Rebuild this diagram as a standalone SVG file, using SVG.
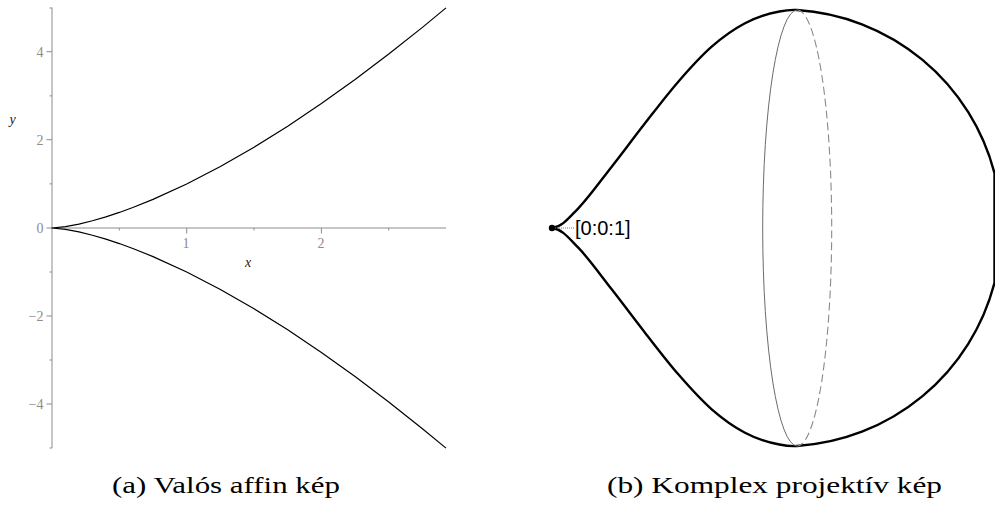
<svg xmlns="http://www.w3.org/2000/svg" width="995" height="512" viewBox="0 0 995 512">
<style>
.axis{stroke:#8c8c8c;stroke-width:1;fill:none}
.tick{fill:#8c8c8c;font-family:"Liberation Serif",serif;font-size:14px}
.alab{fill:#222;font-family:"Liberation Serif",serif;font-style:italic;font-size:14px}
.curve{fill:none;stroke:#000;stroke-width:1.2;stroke-linejoin:round}
.bulb{fill:none;stroke:#000;stroke-width:2.4;stroke-linejoin:round}
.ell{fill:none;stroke:#6a6a6a;stroke-width:1}
.elld{fill:none;stroke:#8a8a8a;stroke-width:1.1;stroke-dasharray:8 4}
.cap{fill:#000;font-family:"Liberation Serif",serif;font-size:24px}
.pt{fill:#000;font-family:"Liberation Sans",Arial,sans-serif;font-size:20px}
</style>
<g id="plot-a">
  <g id="axes">
    <line class="axis" x1="52" y1="7.5" x2="52" y2="448"/>
    <line class="axis" x1="52" y1="228" x2="446" y2="228"/>
    <path class="axis" d="M46.5,51.7H52M46.5,139.7H52M46.5,228H52M46.5,316H52M46.5,404H52M49.5,8H52M49.5,95.9H52M49.5,183.9H52M49.5,272H52M49.5,360H52M49.5,448H52"/>
    <path class="axis" d="M186.7,228V233.5M321.4,228V233.5M119.3,228V230.5M254,228V230.5M388.7,228V230.5"/>
  </g>
  <g id="ticklabels">
    <text class="tick" x="43.5" y="57" text-anchor="end">4</text>
    <text class="tick" x="43.5" y="145" text-anchor="end">2</text>
    <text class="tick" x="43.5" y="233" text-anchor="end">0</text>
    <text class="tick" x="43.5" y="321" text-anchor="end">−2</text>
    <text class="tick" x="43.5" y="409" text-anchor="end">−4</text>
    <text class="tick" x="186" y="248" text-anchor="middle">1</text>
    <text class="tick" x="321" y="248" text-anchor="middle">2</text>
    <text class="alab" x="12.5" y="124" text-anchor="middle">y</text>
    <text class="alab" x="248" y="267" text-anchor="middle">x</text>
  </g>
  <g id="cusp-curve">
    <polyline class="curve" points="446,7.89 422.43,27.34 388.75,54.08 355.08,79.5 321.4,103.55 287.73,126.14 254.05,147.17 220.38,166.51 186.7,184 153.03,199.42 132.82,207.55 119.35,212.44 105.88,216.87 92.41,220.77 78.94,224.07 65.47,226.61 52,228 65.47,229.39 78.94,231.93 92.41,235.23 105.88,239.13 119.35,243.56 132.82,248.45 153.03,256.58 186.7,272 220.38,289.49 254.05,308.83 287.73,329.86 321.4,352.45 355.08,376.5 388.75,401.92 422.43,428.66 446,448.11"/>
  </g>
</g>
<g id="plot-b">
  <g id="sphere-curve">
    <path class="bulb" d="M552,228 C562,227 568.35,218.5 578.3,208.3 C588.25,198.1 600.58,180.87 611.7,166.7 C622.82,152.53 633.9,137.47 645,123.3 C656.1,109.13 667.18,94.47 678.3,81.7 C689.42,68.93 700.58,56.43 711.7,46.7 C722.82,36.97 733.9,29.13 745,23.3 C756.1,17.47 769.63,13.2 778.3,11.7 C785.5,10.3 789.1,9.5 797,10 A218.4,218.4 0 0 1 994.5,173.3 L994.5,282.7 A218.4,218.4 0 0 1 797,446 C789.1,446.5 785.5,445.7 778.3,444.3 C769.63,442.8 756.1,438.53 745,432.7 C733.9,426.87 722.82,419.03 711.7,409.3 C700.58,399.57 689.42,387.07 678.3,374.3 C667.18,361.53 656.1,346.87 645,332.7 C633.9,318.53 622.82,303.47 611.7,289.3 C600.58,275.13 588.25,257.9 578.3,247.7 C568.35,237.5 562,229 552,228 Z"/>
  </g>
  <g id="equator">
    <path class="ell" d="M797.2,10 A34.5,218 0 0 0 797.2,446"/>
    <path class="elld" d="M797.2,10 A34.5,218 0 0 1 797.2,446"/>
  </g>
  <g id="point-001">
    <circle cx="552" cy="228" r="3.2" fill="#000"/>
    <line x1="555" y1="228" x2="574" y2="228" stroke="#777" stroke-width="1" stroke-dasharray="1 1"/>
    <text class="pt" x="575" y="235">[0:0:1]</text>
  </g>
</g>
<g id="captions">
  <text class="cap" x="112" y="493" textLength="228" lengthAdjust="spacingAndGlyphs">(a) Valós affin kép</text>
  <text class="cap" x="607" y="493" textLength="335" lengthAdjust="spacingAndGlyphs">(b) Komplex projektív kép</text>
</g>
</svg>
